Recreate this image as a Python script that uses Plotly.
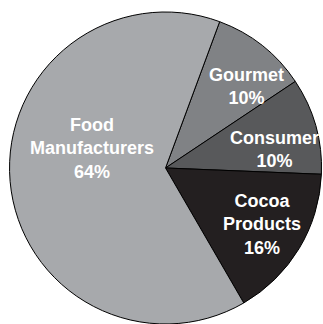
import plotly.graph_objects as go

labels = ["Gourmet", "Consumer", "Cocoa<br>Products", "Food<br>Manufacturers"]
values = [10, 10, 16, 64]
colors = ["#808285", "#58595b", "#231f20", "#a7a9ac"]
# label block centres in pixels (x, y from top) for the 323x324 canvas
label_px = [(246.5, 86), (274, 149), (261.5, 224.5), (92.5, 148)]

W, H = 323, 324

fig = go.Figure(go.Pie(
    labels=labels,
    values=values,
    sort=False,
    direction="clockwise",
    rotation=20.3,
    marker=dict(colors=colors, line=dict(color="#000000", width=1)),
    textinfo="none",
    hoverinfo="none",
    showlegend=False,
    domain=dict(x=[0.025, 1.0], y=[0.0, 0.963]),
))

total = sum(values)
for lab, val, (px, py) in zip(labels, values, label_px):
    fig.add_annotation(
        x=px / W, y=1 - py / H, xref="paper", yref="paper",
        xanchor="center", yanchor="middle",
        text=f"{lab}<br>{round(100 * val / total)}%",
        showarrow=False,
        font=dict(family="Liberation Sans, Arial, sans-serif", size=18, color="white", weight="bold"),
        align="center",
    )

fig.update_layout(
    width=W, height=H,
    margin=dict(l=0, r=0, t=0, b=0),
    paper_bgcolor="white",
    plot_bgcolor="white",
)

fig.write_html("out.html")
